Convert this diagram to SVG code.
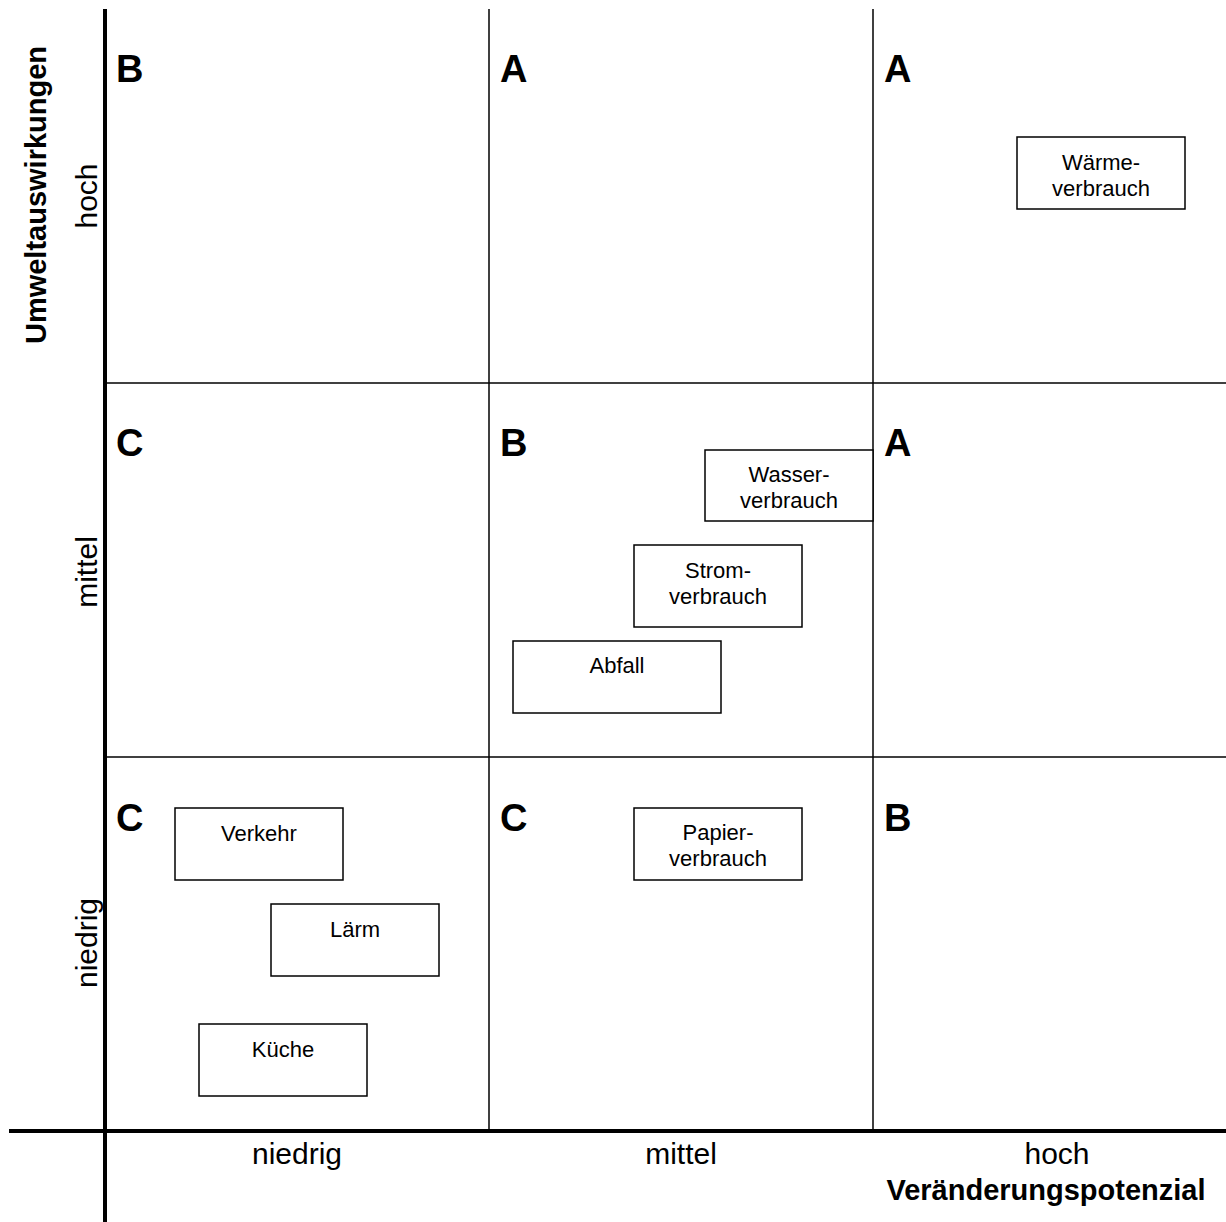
<svg xmlns="http://www.w3.org/2000/svg" width="1226" height="1222" viewBox="0 0 1226 1222">
<style>
text{font-family:"Liberation Sans",Arial,sans-serif;fill:#000}
.axis{stroke:#000;stroke-width:4;fill:none}
.grid{stroke:#000;stroke-width:1.5;fill:none}
.box{fill:#fff;stroke:#000;stroke-width:1.5}
.bt{font-size:22px;text-anchor:middle}
.cl{font-size:38px;font-weight:bold}
.al{font-size:30px;text-anchor:middle}
.ttl{font-size:29px;font-weight:bold;text-anchor:middle}
</style>
<rect width="1226" height="1222" fill="#fff"/>
<g id="connectors">
<line class="grid" x1="489" y1="9" x2="489" y2="1131"/>
<line class="grid" x1="873" y1="9" x2="873" y2="1131"/>
<line class="grid" x1="105" y1="383" x2="1226" y2="383"/>
<line class="grid" x1="105" y1="757" x2="1226" y2="757"/>
<line class="axis" x1="105" y1="9" x2="105" y2="1222"/>
<line class="axis" x1="9" y1="1131" x2="1226" y2="1131"/>
</g>
<g id="labels">
<text class="ttl" transform="translate(46,195) rotate(-90)">Umweltauswirkungen</text>
<text class="al" transform="translate(97,196) rotate(-90)">hoch</text>
<text class="al" transform="translate(97,572) rotate(-90)">mittel</text>
<text class="al" transform="translate(97,943) rotate(-90)">niedrig</text>
<text class="al" x="297" y="1164">niedrig</text>
<text class="al" x="681" y="1164">mittel</text>
<text class="al" x="1057" y="1164">hoch</text>
<text class="ttl" x="1046" y="1200">Veränderungspotenzial</text>
</g>
<g id="classes">
<text class="cl" x="116" y="82">B</text>
<text class="cl" x="500" y="82">A</text>
<text class="cl" x="884" y="82">A</text>
<text class="cl" x="116" y="456">C</text>
<text class="cl" x="500" y="456">B</text>
<text class="cl" x="884" y="456">A</text>
<text class="cl" x="116" y="831">C</text>
<text class="cl" x="500" y="831">C</text>
<text class="cl" x="884" y="831">B</text>
</g>
<g id="waerme"><rect class="box" x="1017" y="137" width="168" height="72"/><text class="bt" x="1101" y="170">Wärme-</text><text class="bt" x="1101" y="196">verbrauch</text></g>
<g id="wasser"><rect class="box" x="705" y="450" width="168" height="71"/><text class="bt" x="789" y="482">Wasser-</text><text class="bt" x="789" y="508">verbrauch</text></g>
<g id="strom"><rect class="box" x="634" y="545" width="168" height="82"/><text class="bt" x="718" y="578">Strom-</text><text class="bt" x="718" y="604">verbrauch</text></g>
<g id="abfall"><rect class="box" x="513" y="641" width="208" height="72"/><text class="bt" x="617" y="673">Abfall</text></g>
<g id="papier"><rect class="box" x="634" y="808" width="168" height="72"/><text class="bt" x="718" y="840">Papier-</text><text class="bt" x="718" y="866">verbrauch</text></g>
<g id="verkehr"><rect class="box" x="175" y="808" width="168" height="72"/><text class="bt" x="259" y="841">Verkehr</text></g>
<g id="laerm"><rect class="box" x="271" y="904" width="168" height="72"/><text class="bt" x="355" y="937">Lärm</text></g>
<g id="kueche"><rect class="box" x="199" y="1024" width="168" height="72"/><text class="bt" x="283" y="1057">Küche</text></g>
</svg>
